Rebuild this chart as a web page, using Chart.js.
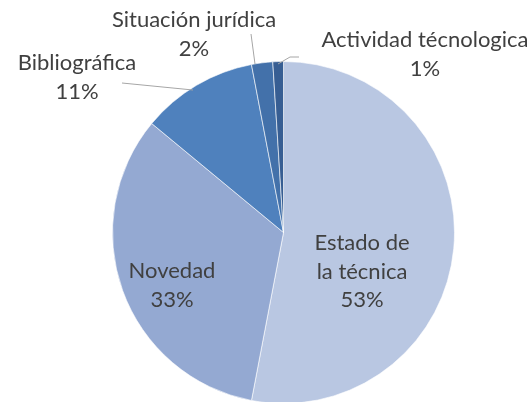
<!DOCTYPE html>
<html>
<head>
<meta charset="utf-8">
<script src="https://cdn.jsdelivr.net/npm/chart.js@4/dist/chart.umd.min.js"></script>
<style>
html,body{margin:0;padding:0;background:#fff;overflow:hidden;}
#wrap{width:531px;height:402px;position:relative;overflow:hidden;}
</style>
</head>
<body>
<div id="wrap"><canvas id="c" width="531" height="412"></canvas></div>
<script>
// ---- data ----
const categories = ["Estado de la técnica", "Novedad", "Bibliográfica", "Situación jurídica", "Actividad técnologica"];
const labelLines = [["Estado de", "la técnica"], ["Novedad"], ["Bibliográfica"], ["Situación jurídica"], ["Actividad técnologica"]];
const values = [53, 33, 11, 2, 1];
const colors = ["#B9C7E2", "#94A9D2", "#4F81BD", "#4371AA", "#375E93"];

// ---- label layout (text placement only) ----
const labelLayout = [
  {x: 362, y: 243},
  {x: 172, y: 271},
  {x: 77,  y: 63, leader: [[122, 83], [193, 90]]},
  {x: 194, y: 20, leader: [[251, 34], [255, 64]]},
  {x: 425, y: 40, leader: [[299, 57], [290, 57], [278, 64]]}
];

const FONT = '22px Lato';
const LINE_H = 28.5;

const labelPlugin = {
  id: 'pieLabels',
  afterDatasetsDraw(chart) {
    const ctx = chart.ctx;
    const total = values.reduce((a, b) => a + b, 0);
    ctx.save();
    ctx.strokeStyle = '#A6A6A6';
    ctx.lineWidth = 1;
    labelLayout.forEach(l => {
      if (!l.leader) return;
      ctx.beginPath();
      l.leader.forEach((p, i) => i ? ctx.lineTo(p[0], p[1]) : ctx.moveTo(p[0], p[1]));
      ctx.stroke();
    });
    ctx.fillStyle = '#404040';
    ctx.font = FONT;
    ctx.textAlign = 'center';
    ctx.textBaseline = 'middle';
    labelLayout.forEach((l, i) => {
      const lines = labelLines[i].concat([Math.round(values[i] / total * 100) + '%']);
      lines.forEach((t, j) => ctx.fillText(t, l.x, l.y + j * LINE_H));
    });
    ctx.restore();
  }
};

new Chart(document.getElementById('c'), {
  type: 'pie',
  data: {
    labels: categories,
    datasets: [{
      data: values,
      backgroundColor: colors,
      borderColor: 'rgba(255,255,255,0.6)',
      borderWidth: 1
    }]
  },
  options: {
    responsive: false,
    animation: false,
    layout: {padding: {top: 61, bottom: 8, left: 112, right: 76}},
    plugins: {legend: {display: false}, tooltip: {enabled: false}}
  },
  plugins: [labelPlugin]
});
</script>
</body>
</html>
